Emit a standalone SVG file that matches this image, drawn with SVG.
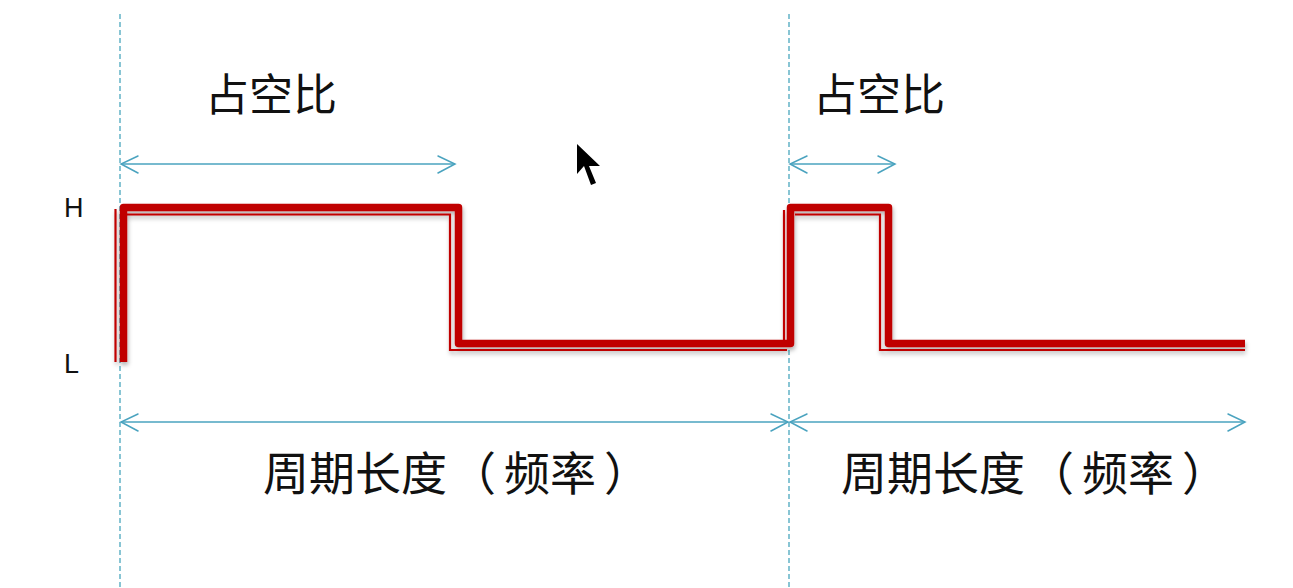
<svg xmlns="http://www.w3.org/2000/svg" width="1293" height="588" viewBox="0 0 1293 588">
<style>
.guide{stroke:#3a9fb8;stroke-width:1.2;stroke-dasharray:5 3;fill:none}
.dim{stroke:#4aa3bf;stroke-width:1.3;fill:none}
.head{stroke:#4aa3bf;stroke-width:1.5;fill:none;stroke-linecap:round}
.thick{stroke:#c00000;stroke-width:7.5;fill:none;stroke-linejoin:round}
.thin{stroke:#c00000;stroke-width:2.2;fill:none}
.lbl{font-family:"Noto Sans CJK SC","Noto Sans",sans-serif;fill:#111}
.lv{font-family:"Liberation Sans","Noto Sans",sans-serif;font-size:27px;fill:#111}
</style>
<defs>
<filter id="sh" x="-5%" y="-20%" width="110%" height="140%">
<feDropShadow dx="1" dy="3" stdDeviation="2" flood-color="#000" flood-opacity="0.3"/>
</filter>
</defs>
<rect width="1293" height="588" fill="#fff"/>
<g id="guides">
<line class="guide" x1="120" y1="14" x2="120" y2="588"/>
<line class="guide" x1="789" y1="14" x2="789" y2="588"/>
</g>
<g id="levels">
<text class="lv" x="64" y="217">H</text>
<text class="lv" x="64" y="373">L</text>
</g>
<g id="waveform" filter="url(#sh)">
<path class="thick" d="M123.5 362 V207.5 H458.5 V343.5 H790.5 V207.5 H888.5 V343.5 H1245"/>
<path class="thin" d="M115.5 209 V362"/>
<path class="thin" d="M126.5 214.5 H450 V350 H787"/>
<path class="thin" d="M784 210 V340"/>
<path class="thin" d="M795 214.5 H880 V350 H1245"/>
</g>
<g id="connectors">
<line class="dim" x1="121" y1="164" x2="455" y2="164"/>
<path class="head" d="M138 156 L121 164 L138 173 M438 156 L455 164 L438 173"/>
<line class="dim" x1="790" y1="164" x2="895" y2="164"/>
<path class="head" d="M807 156 L790 164 L807 173 M878 156 L895 164 L878 173"/>
<line class="dim" x1="121" y1="422" x2="788" y2="422"/>
<path class="head" d="M138 414 L121 422 L138 431 M771 414 L788 422 L771 431"/>
<line class="dim" x1="790" y1="422" x2="1245" y2="422"/>
<path class="head" d="M807 414 L790 422 L807 431 M1228 414 L1245 422 L1228 431"/>
</g>
<g id="labels">
<text class="lbl" x="205" y="111" font-size="44">占空比</text>
<text class="lbl" x="813" y="111" font-size="44">占空比</text>
<text class="lbl" x="263 309 355 401 450 504 550 604" y="490" font-size="46">周期长度（频率）</text>
<text class="lbl" x="841 887 933 979 1028 1082 1128 1182" y="490" font-size="46">周期长度（频率）</text>
</g>
<g id="cursor">
<polygon points="577,144 577,174 584,166 591,185 596,183 589,166 600,166" fill="#000"/>
</g>
</svg>
